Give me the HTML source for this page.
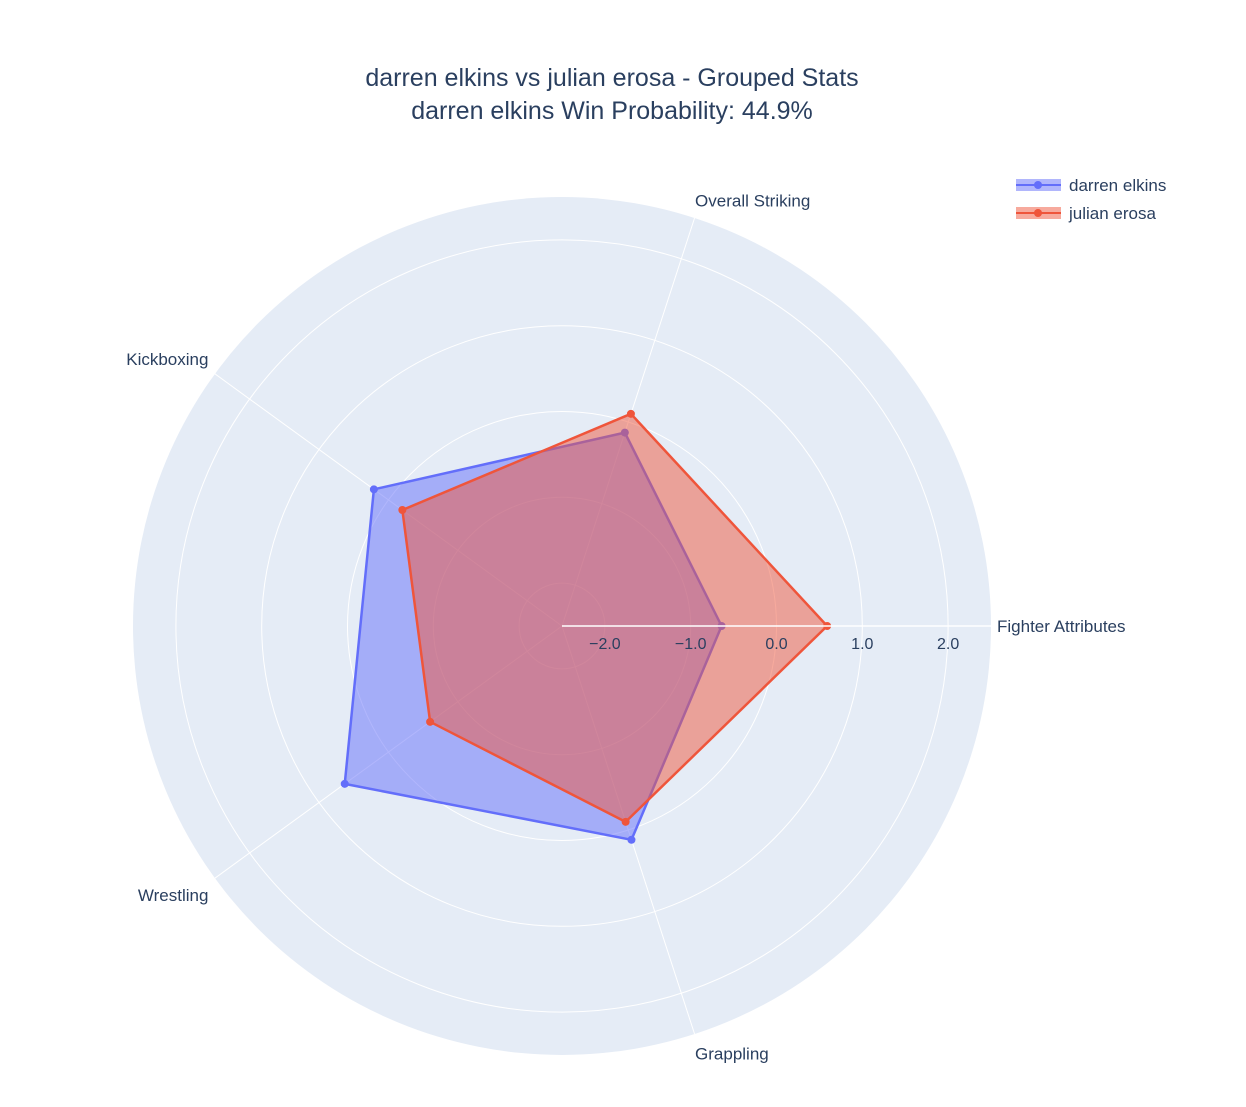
<!DOCTYPE html>
<html><head><meta charset="utf-8"><style>
html,body{margin:0;padding:0;background:#fff;}
svg text{font-family:"Liberation Sans","DejaVu Sans",sans-serif;fill:#2a3f5f;}
</style></head><body>
<svg id="chart" width="1246" height="1102" xmlns="http://www.w3.org/2000/svg">
<text x="612" y="86" text-anchor="middle" font-size="25">darren elkins vs julian erosa - Grouped Stats</text>
<text x="612" y="119" text-anchor="middle" font-size="25">darren elkins Win Probability: 44.9%</text>
<g id="plot"></g>
<g>
<g>
<rect x="1016" y="179" width="45" height="12" fill="rgba(99,110,250,0.5)"/>
<line x1="1016" y1="185" x2="1061" y2="185" stroke="#636efa" stroke-width="2"/>
<circle cx="1038" cy="185" r="4" fill="#636efa"/>
<text x="1069" y="191" font-size="17">darren elkins</text></g>
<g>
<rect x="1016" y="207" width="45" height="12" fill="rgba(239,85,59,0.5)"/>
<line x1="1016" y1="213" x2="1061" y2="213" stroke="#ef553b" stroke-width="2"/>
<circle cx="1038" cy="213" r="4" fill="#ef553b"/>
<text x="1069" y="219" font-size="17">julian erosa</text></g>
</g>
</svg>
<script>
const categories=["Fighter Attributes","Overall Striking","Kickboxing","Wrestling","Grappling"];
const darrenValues=[-0.64,-0.13,0.21,0.63,0.12];
const julianValues=[0.59,0.10,-0.20,-0.60,-0.10];
const radialTicks=[-2,-1,0,1,2];
const tickLabels=["\u22122.0","\u22121.0","0.0","1.0","2.0"];
const rMin=-2.5,rMax=2.5;
const cx=562,cy=626,R=429;
const NS="http://www.w3.org/2000/svg";
const g=document.getElementById('plot');
function rScale(v){return (v-rMin)/(rMax-rMin)*R;}
function ang(i){return i*2*Math.PI/categories.length;}
function pt(i,v){const r=rScale(v),a=ang(i);return [cx+r*Math.cos(a),cy-r*Math.sin(a)];}
function mk(tag,attrs){const e=document.createElementNS(NS,tag);for(const k in attrs)e.setAttribute(k,attrs[k]);g.appendChild(e);return e;}
let bg=mk('circle',{cx:cx,cy:cy,r:R,fill:'#e5ecf6'});


radialTicks.forEach((t,i)=>{
  let c=mk('circle',{cx:cx,cy:cy,r:rScale(t),fill:'none',stroke:'#fff','stroke-width':1});
  
  
});
categories.forEach((c,i)=>{
  const [x,y]=pt(i,rMax);
  let l=mk('line',{x1:cx,y1:cy,x2:x,y2:y,stroke:'#fff','stroke-width':1});
  
  
  const a=ang(i),lr=R+8;
  const lx=cx+lr*Math.cos(a),ly=cy-lr*Math.sin(a);
  const ca=Math.cos(a);
  let anchor=ca>0.3?'start':(ca<-0.3?'end':'start');
  let dy=Math.sin(a)>0.3?-4:(Math.sin(a)<-0.3?18:6);
  let tx=mk('text',{x:lx+(ca>0.3?-2:0),y:ly+dy,'text-anchor':anchor,'font-size':17});
  tx.textContent=c;
  
  
});
function series(vals,color,fill,name){
  const pts=vals.map((v,i)=>pt(i,v));
  let p=mk('polygon',{points:pts.map(p=>p.join(',')).join(' '),fill:fill,stroke:color,'stroke-width':2.5,'stroke-linejoin':'round'});
  
  
  pts.forEach(q=>{
    let c=mk('circle',{cx:q[0],cy:q[1],r:4,fill:color});
    
    
  });
}
series(darrenValues,'#636efa','rgba(99,110,250,0.5)','darren-elkins');
series(julianValues,'#ef553b','rgba(239,85,59,0.5)','julian-erosa');
let ax=mk('line',{x1:cx,y1:cy,x2:cx+R,y2:cy,stroke:'#fff','stroke-width':1.5});


radialTicks.forEach((t,i)=>{
  let tx=mk('text',{x:cx+rScale(t),y:cy+23,'text-anchor':'middle','font-size':16});
  tx.textContent=tickLabels[i];
  
  
});
</script>
</body></html>
